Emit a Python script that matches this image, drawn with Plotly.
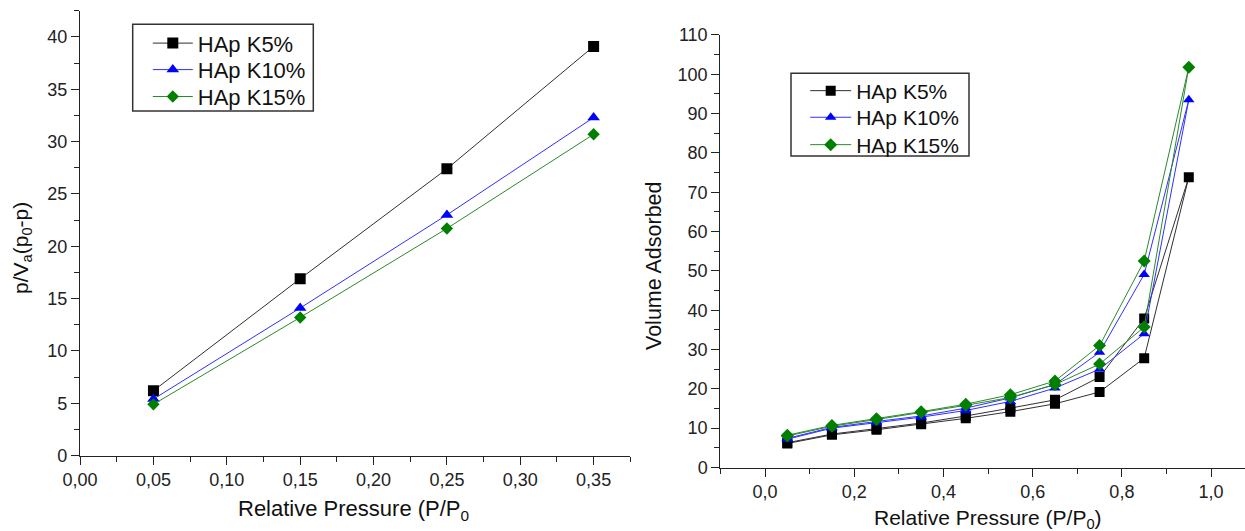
import plotly.graph_objects as go

# ---------------- data ----------------
# Left: BET plot
bet_x = [0.05, 0.15, 0.25, 0.35]
bet_k5 = [6.2, 16.9, 27.4, 39.1]
bet_k10 = [5.4, 14.1, 23.0, 32.3]
bet_k15 = [4.9, 13.2, 21.7, 30.7]

# Right: adsorption / desorption isotherms
iso_x = [0.05, 0.15, 0.25, 0.35, 0.45, 0.55, 0.65, 0.75, 0.85, 0.95,
         0.85, 0.75, 0.65, 0.55, 0.45, 0.35, 0.25, 0.15, 0.05]
iso_k5 = [6.1, 8.3, 9.6, 11.0, 12.5, 14.2, 16.2, 19.2, 27.8, 73.8,
          37.9, 23.0, 17.2, 15.1, 13.1, 11.3, 9.9, 8.5, 6.3]
iso_k10 = [7.2, 10.0, 11.4, 12.8, 14.5, 16.8, 20.2, 25.0, 34.0, 93.5,
           49.1, 29.3, 21.1, 17.7, 15.1, 13.1, 11.7, 10.2, 7.4]
iso_k15 = [8.0, 10.5, 12.2, 14.0, 15.8, 17.8, 21.1, 26.3, 35.7, 101.8,
           52.5, 31.0, 22.0, 18.5, 16.1, 14.2, 12.4, 10.7, 8.2]

names = ["HAp K5%", "HAp K10%", "HAp K15%"]

# ---------------- style ----------------
W, H = 1245, 531
FONT = "Liberation Sans, Arial, sans-serif"
marker_colors = ["#000000", "#0000ff", "#007f00"]
line_colors = ["#303030", "#3030ff", "#2a8a2a"]
symbols = ["square", "triangle-up", "diamond"]
msizes_left = [11, 11, 9.5]
msizes_right = [10, 10, 10]


def px_x(p):
    return p / W


def px_y(p):
    return (H - p) / H


fig = go.Figure()

left_legends = ["legend", "legend2", "legend3"]
right_legends = ["legend4", "legend5", "legend6"]

for i, ys in enumerate([bet_k5, bet_k10, bet_k15]):
    fig.add_trace(go.Scatter(
        x=bet_x, y=ys, name=names[i], mode="lines+markers",
        line=dict(color=line_colors[i], width=1),
        marker=dict(symbol=symbols[i], size=msizes_left[i], color=marker_colors[i]),
        xaxis="x", yaxis="y", legend=left_legends[i]))

for i, ys in enumerate([iso_k5, iso_k10, iso_k15]):
    fig.add_trace(go.Scatter(
        x=iso_x, y=ys, name=names[i], mode="lines+markers",
        line=dict(color=line_colors[i], width=1),
        marker=dict(symbol=symbols[i], size=msizes_right[i], color=marker_colors[i]),
        xaxis="x2", yaxis="y2", legend=right_legends[i]))

axis_common = dict(
    showline=True, linecolor="#222222", linewidth=1.3,
    showgrid=False, zeroline=False, ticks="outside", ticklen=8,
    tickwidth=1.2, tickcolor="#222222",
    tickfont=dict(family=FONT, size=18, color="#222222"),
    automargin=False,
)

layout = dict(
    width=W, height=H,
    margin=dict(l=0, r=0, t=0, b=0),
    paper_bgcolor="white", plot_bgcolor="white",
    separators=",.",
    font=dict(family=FONT, color="#222222"),
    xaxis=dict(domain=[px_x(80.1), px_x(630.3)], range=[0, 0.375],
               tickvals=[0, 0.05, 0.10, 0.15, 0.20, 0.25, 0.30, 0.35],
               tickformat=".2f",
               minor=dict(ticks="outside", ticklen=5, dtick=0.025, tick0=0,
                          tickcolor="#222222"),
               anchor="y", **axis_common),
    yaxis=dict(domain=[px_y(455.6), px_y(10.8)], range=[0, 42.5],
               dtick=5, tick0=0,
               minor=dict(ticks="outside", ticklen=5, dtick=2.5, tick0=0,
                          tickcolor="#222222"),
               anchor="x", **axis_common),
    xaxis2=dict(domain=[px_x(720.4), 1.0], range=[-0.1, 1.076],
                dtick=0.2, tick0=0, tickformat=".1f",
                minor=dict(ticks="outside", ticklen=5, dtick=0.1, tick0=0,
                           tickcolor="#222222"),
                anchor="y2", **axis_common),
    yaxis2=dict(domain=[px_y(467.5), px_y(34.9)], range=[0, 110],
                dtick=10, tick0=0,
                minor=dict(ticks="outside", ticklen=5, dtick=5, tick0=0,
                           tickcolor="#222222"),
                anchor="x2", **axis_common),
    showlegend=True,
)

left_rows = [43.3, 69.8, 96.7]
right_rows = [91.0, 117.6, 145.0]
for i, name in enumerate(left_legends):
    layout[name] = dict(x=px_x(147.8), y=px_y(left_rows[i]), xanchor="left",
                        yanchor="middle", borderwidth=0, bgcolor="rgba(0,0,0,0)",
                        itemwidth=40,
                        font=dict(family=FONT, size=22, color="#111111"))
for i, name in enumerate(right_legends):
    layout[name] = dict(x=px_x(805.2), y=px_y(right_rows[i]), xanchor="left",
                        yanchor="middle", borderwidth=0, bgcolor="rgba(0,0,0,0)",
                        itemwidth=41,
                        font=dict(family=FONT, size=21, color="#111111"))

fig.update_layout(**layout)

# legend frames
fig.add_shape(type="rect", xref="paper", yref="paper",
              x0=px_x(132.7), x1=px_x(313.3), y0=px_y(111.0), y1=px_y(24.3),
              line=dict(color="#333333", width=1.5), fillcolor="white", layer="above")
fig.add_shape(type="rect", xref="paper", yref="paper",
              x0=px_x(791.0), x1=px_x(969.0), y0=px_y(156.0), y1=px_y(73.3),
              line=dict(color="#333333", width=1.5), fillcolor="white", layer="above")

ann_font = dict(family=FONT, size=21, color="#111111")
fig.add_annotation(text="Relative Pressure (P/P<sub>0</sub>", xref="paper", yref="paper",
                   x=px_x(353), y=px_y(510), xanchor="center", yanchor="middle",
                   showarrow=False, font=dict(family=FONT, size=22, color="#111111"))
fig.add_annotation(text="Relative Pressure (P/P<sub>0</sub>)", xref="paper", yref="paper",
                   x=px_x(988), y=px_y(519), xanchor="center", yanchor="middle",
                   showarrow=False, font=ann_font)
fig.add_annotation(text="p/V<sub>a</sub>(p<sub>0</sub>-p)", xref="paper", yref="paper",
                   x=px_x(22), y=px_y(248), xanchor="center", yanchor="middle",
                   textangle=-90, showarrow=False, font=ann_font)
fig.add_annotation(text="Volume Adsorbed", xref="paper", yref="paper",
                   x=px_x(654), y=px_y(266), xanchor="center", yanchor="middle",
                   textangle=-90, showarrow=False,
                   font=dict(family=FONT, size=21.5, color="#111111"))

fig.write_html("out.html")
